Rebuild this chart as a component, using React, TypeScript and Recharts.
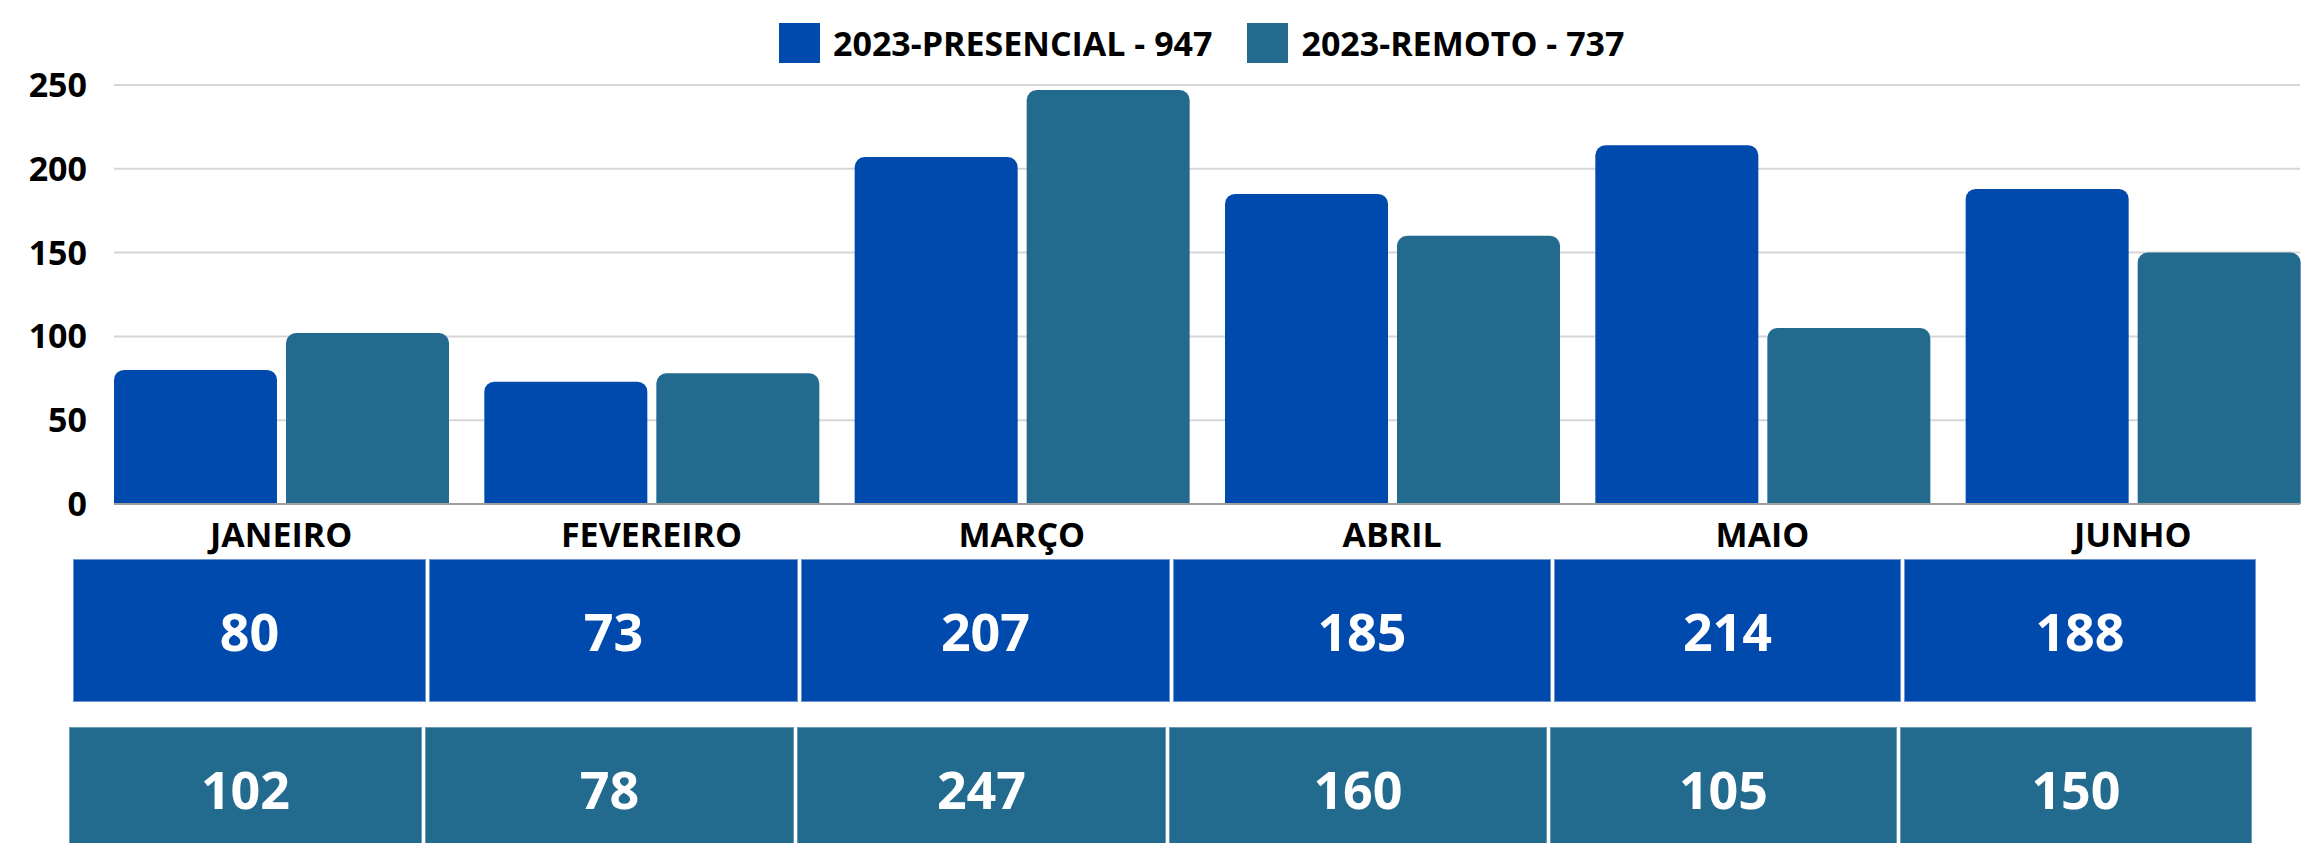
import React from 'react';
import {
  BarChart,
  Bar,
  XAxis,
  YAxis,
  CartesianGrid,
} from 'recharts';

const months = ['JANEIRO', 'FEVEREIRO', 'MARÇO', 'ABRIL', 'MAIO', 'JUNHO'];
const presencial = [80, 73, 207, 185, 214, 188];
const remoto = [102, 78, 247, 160, 105, 150];
const yTicks = [0, 50, 100, 150, 200, 250];
const seriesNames = ['2023-PRESENCIAL', '2023-REMOTO'];
const seriesTotals = [947, 737];

const FONT = "'Open Sans', 'Noto Sans', sans-serif";
const BLUE = '#004aad';
const TEAL = '#226b8f';

// table cell edges (x, px) for the two summary rows
const cellEdges = [73, 426, 798, 1170, 1551, 1901, 2256];

const chartData = months.map((m, i) => ({
  month: m,
  presencial: presencial[i],
  remoto: remoto[i],
}));

function Legend() {
  const colors = [BLUE, TEAL];
  return (
    <div
      style={{
        position: 'absolute',
        top: 23,
        left: 779,
        display: 'flex',
        alignItems: 'center',
        fontFamily: FONT,
        fontWeight: 700,
        fontSize: 34,
        color: '#000',
        whiteSpace: 'nowrap',
      }}
    >
      {seriesNames.map((name, i) => (
        <div
          key={name}
          style={{ display: 'flex', alignItems: 'center', marginRight: i === 0 ? 35 : 0 }}
        >
          <div style={{ width: 41, height: 40, background: colors[i], marginRight: 13 }} />
          <span style={{ lineHeight: '40px' }}>{`${name} - ${seriesTotals[i]}`}</span>
        </div>
      ))}
    </div>
  );
}

function ValueRow({
  values,
  color,
  border,
  top,
  height,
  shift,
}: {
  values: number[];
  color: string;
  border: string;
  top: number;
  height: number;
  shift: number;
}) {
  return (
    <>
      {values.map((v, i) => {
        const left = cellEdges[i] + (i > 0 ? 3 : 0) + shift;
        const right = cellEdges[i + 1] + shift;
        return (
          <div
            key={i}
            style={{
              position: 'absolute',
              top,
              left,
              width: right - left,
              height,
              boxSizing: 'border-box',
              background: color,
              border: `1px solid ${border}`,
              display: 'flex',
              alignItems: 'center',
              justifyContent: 'center',
              color: '#fff',
              fontFamily: FONT,
              fontWeight: 700,
              fontSize: 52,
            }}
          >
            {v}
          </div>
        );
      })}
    </>
  );
}

export default function App() {
  return (
    <div
      style={{
        position: 'absolute',
        left: 0,
        top: 0,
        width: 2305,
        height: 843,
        overflow: 'hidden',
        background: '#fff',
      }}
    >
      <Legend />
      <BarChart
        width={2305}
        height={560}
        data={chartData}
        margin={{ top: 85, right: 5, bottom: 0, left: 0 }}
        barSize={163}
        barGap={9}
        style={{ position: 'absolute', left: 0, top: 0 }}
      >
        <CartesianGrid vertical={false} stroke="#d6d6d6" strokeWidth={2} />
        <XAxis
          dataKey="month"
          interval={0}
          height={56}
          padding={{ left: -18, right: -18 }}
          axisLine={{ stroke: '#9e9e9e', strokeWidth: 2 }}
          tickLine={false}
          tickSize={0}
          tickMargin={19}
          tick={{ fill: '#000', fontSize: 34, fontWeight: 700, fontFamily: FONT }}
        />
        <YAxis
          width={114}
          domain={[0, 250]}
          ticks={yTicks}
          interval={0}
          axisLine={false}
          tickLine={false}
          tickSize={0}
          tickMargin={27}
          tick={{ fill: '#000', fontSize: 34, fontWeight: 700, fontFamily: FONT }}
        />
        <Bar dataKey="presencial" fill={BLUE} radius={[10, 10, 0, 0]} isAnimationActive={false} />
        <Bar dataKey="remoto" fill={TEAL} radius={[10, 10, 0, 0]} isAnimationActive={false} />
      </BarChart>
      <ValueRow values={presencial} color={BLUE} border="#6f95d4" top={559} height={143} shift={0} />
      <ValueRow values={remoto} color={TEAL} border="#6c9ab3" top={727} height={122} shift={-4} />
    </div>
  );
}
